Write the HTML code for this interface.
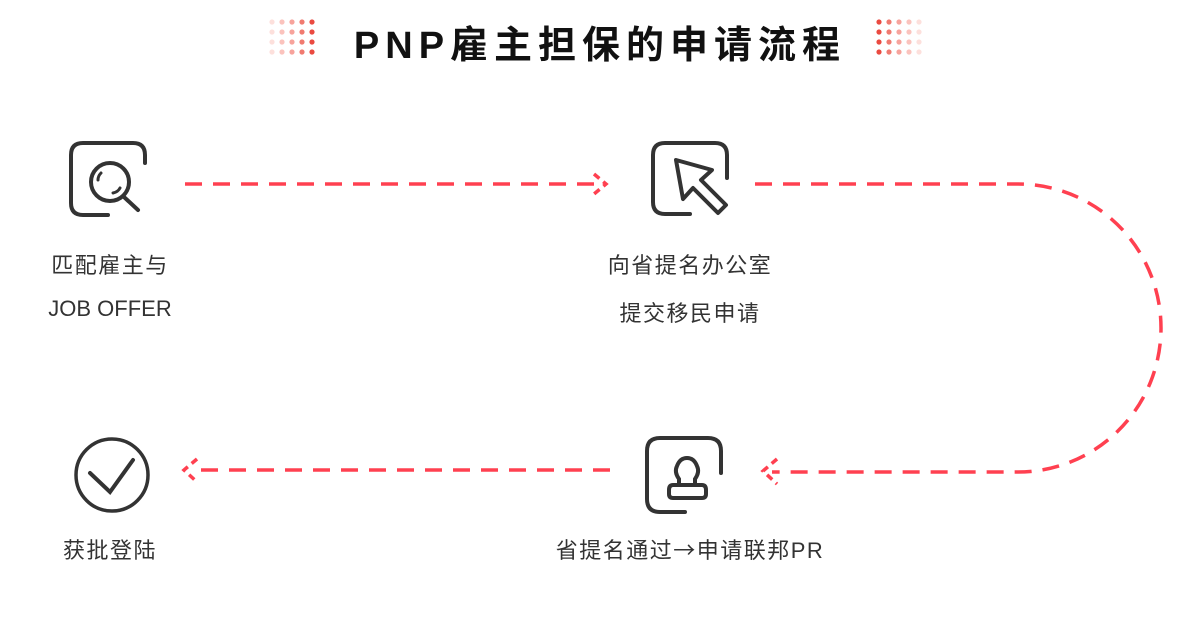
<!DOCTYPE html>
<html><head><meta charset="utf-8"><style>
body{margin:0;width:1200px;height:626px;background:#fff;overflow:hidden;position:relative;font-family:"Liberation Sans","Noto Sans CJK SC",sans-serif;}
.t{position:absolute;color:#333;font-size:22px;letter-spacing:1.5px;text-align:center;width:300px;white-space:nowrap;}
.title{position:absolute;top:14px;left:0;width:1200px;text-align:center;font-size:38px;font-weight:bold;color:#111;letter-spacing:6px;}
</style></head><body>
<svg width="1200" height="626" style="position:absolute;left:0;top:0">
<g stroke="#ff4050" stroke-width="3.5" fill="none" stroke-dasharray="17 11">
<path d="M185 184 H600"/>
<path d="M755 184 H1018 A143 144 0 0 1 1018 472 H772"/>
<path d="M610 470 H190"/>
</g>
<g stroke="#ff4050" stroke-width="3.5" fill="none">
<path d="M594 174 L606 184 L594 194" stroke-dasharray="7 5"/>
<path d="M777 459 L763 471 L777 484" stroke-dasharray="7 5"/>
<path d="M197 459 L184 470 L197 482" stroke-dasharray="7 5"/>
</g>
<g stroke="#333" stroke-width="4" fill="none" stroke-linecap="round">
<path d="M145 163 V155 Q145 143 133 143 H83 Q71 143 71 155 V203 Q71 215 83 215 H108"/>
<circle cx="110" cy="182" r="19"/>
<path d="M124 197 L138 210"/>
<path d="M101 173 Q98 176 98 180 M113 193 Q118 192 120 188" stroke-width="3"/>
<path d="M727 178 V155 Q727 143 715 143 H665 Q653 143 653 155 V202 Q653 214 665 214 H690"/>
<path d="M676 160 L712 170 L701 180 L726 205 L718 213 L693 188 L683 199 Z" stroke-linejoin="round" stroke-linecap="butt"/>
<path d="M721 473 V451 Q721 438 708 438 H660 Q647 438 647 451 V499 Q647 512 660 512 H685"/>
<path d="M679 485 V479 Q674 472 677 466 Q680 458 687 458 Q694 458 697 466 Q700 472 695 479 V485 M673 485 H702 Q706 485 706 490 V494 Q706 498 702 498 H673 Q669 498 669 494 V490 Q669 485 673 485 Z"/>
<circle cx="112" cy="475" r="36" stroke-width="3.5"/>
<path d="M90 473 L110 492 L133 460"/>
</g>
</svg>
<svg width="1200" height="80" style="position:absolute;left:0;top:0">
<g>
<circle cx="272" cy="22" r="2.6" fill="#fde0dc"/><circle cx="282" cy="22" r="2.6" fill="#fbc3bd"/><circle cx="292" cy="22" r="2.6" fill="#f7a39c"/><circle cx="302" cy="22" r="2.6" fill="#f07a70"/><circle cx="312" cy="22" r="2.6" fill="#ea4a40"/>
<circle cx="272" cy="32" r="2.6" fill="#fde0dc"/><circle cx="282" cy="32" r="2.6" fill="#fbc3bd"/><circle cx="292" cy="32" r="2.6" fill="#f7a39c"/><circle cx="302" cy="32" r="2.6" fill="#f07a70"/><circle cx="312" cy="32" r="2.6" fill="#ea4a40"/>
<circle cx="272" cy="42" r="2.6" fill="#fde0dc"/><circle cx="282" cy="42" r="2.6" fill="#fbc3bd"/><circle cx="292" cy="42" r="2.6" fill="#f7a39c"/><circle cx="302" cy="42" r="2.6" fill="#f07a70"/><circle cx="312" cy="42" r="2.6" fill="#ea4a40"/>
<circle cx="272" cy="52" r="2.6" fill="#fde0dc"/><circle cx="282" cy="52" r="2.6" fill="#fbc3bd"/><circle cx="292" cy="52" r="2.6" fill="#f7a39c"/><circle cx="302" cy="52" r="2.6" fill="#f07a70"/><circle cx="312" cy="52" r="2.6" fill="#ea4a40"/>
<circle cx="879" cy="22" r="2.6" fill="#ea4a40"/><circle cx="889" cy="22" r="2.6" fill="#f07a70"/><circle cx="899" cy="22" r="2.6" fill="#f7a39c"/><circle cx="909" cy="22" r="2.6" fill="#fbc3bd"/><circle cx="919" cy="22" r="2.6" fill="#fde0dc"/>
<circle cx="879" cy="32" r="2.6" fill="#ea4a40"/><circle cx="889" cy="32" r="2.6" fill="#f07a70"/><circle cx="899" cy="32" r="2.6" fill="#f7a39c"/><circle cx="909" cy="32" r="2.6" fill="#fbc3bd"/><circle cx="919" cy="32" r="2.6" fill="#fde0dc"/>
<circle cx="879" cy="42" r="2.6" fill="#ea4a40"/><circle cx="889" cy="42" r="2.6" fill="#f07a70"/><circle cx="899" cy="42" r="2.6" fill="#f7a39c"/><circle cx="909" cy="42" r="2.6" fill="#fbc3bd"/><circle cx="919" cy="42" r="2.6" fill="#fde0dc"/>
<circle cx="879" cy="52" r="2.6" fill="#ea4a40"/><circle cx="889" cy="52" r="2.6" fill="#f07a70"/><circle cx="899" cy="52" r="2.6" fill="#f7a39c"/><circle cx="909" cy="52" r="2.6" fill="#fbc3bd"/><circle cx="919" cy="52" r="2.6" fill="#fde0dc"/>
</g>
</svg>
<div class="title">PNP雇主担保的申请流程</div>
<div class="t" style="left:-40px;top:248px">匹配雇主与</div>
<div class="t" style="left:-40px;top:296px;letter-spacing:0">JOB OFFER</div>
<div class="t" style="left:540px;top:248px">向省提名办公室</div>
<div class="t" style="left:540px;top:296px">提交移民申请</div>
<div class="t" style="left:-40px;top:533px">获批登陆</div>
<div class="t" style="left:540px;top:533px">省提名通过<span style="font-family:'Noto Sans CJK SC',sans-serif">→</span>申请联邦PR</div>
</body></html>
